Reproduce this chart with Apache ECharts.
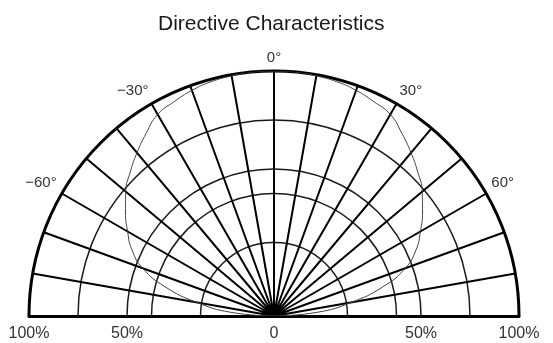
<!DOCTYPE html>
<html>
<head>
<meta charset="utf-8">
<script src="https://cdn.jsdelivr.net/npm/echarts@6/dist/echarts.min.js"></script>
<style>
  html,body{margin:0;padding:0;background:#fff;}
  #chart{width:553px;height:343px;}
</style>
</head>
<body>
<div id="chart"></div>
<script>
// angles of the curve (deg, one side), the other side is the mirror
var curveAngles = [0, 5, 10, 15, 20, 25, 30, 35, 40, 45, 50, 55, 60, 65, 70, 75, 80, 85, 90];
var curveValues = [1.0, 1.0, 0.995, 0.99, 0.98, 0.965, 0.95, 0.91, 0.87, 0.83, 0.79, 0.74, 0.69, 0.64, 0.57, 0.46, 0.32, 0.18, 0];

var angleLabels = [-60, -30, 0, 30, 60];       //角度标签
var ringValues = [0.3, 0.5, 0.6, 0.8];         //同心圆
var bottomTicks = [-1, -0.6, 0, 0.6, 1];
var bottomLabels = ['100%', '50%', '0', '50%', '100%'];

var curveData = [];
for (var i = curveAngles.length - 1; i > 0; i--) {
    curveData.push([curveValues[i], -curveAngles[i]]);
}
for (var j = 0; j < curveAngles.length; j++) {
    curveData.push([curveValues[j], curveAngles[j]]);
}

// radiusAxis splitLine colors, one per 0.1 tick
var ringColors = [];
for (var k = 0; k <= 10; k++) {
    var v = k / 10;
    var on = false;
    for (var m = 0; m < ringValues.length; m++) {
        if (Math.abs(ringValues[m] - v) < 1e-6) on = true;
    }
    ringColors.push(on ? '#1a1a1a' : 'rgba(0,0,0,0)');
}

var labelFont = "'Liberation Sans', Arial, sans-serif";

var myChart = echarts.init(document.getElementById('chart'));
var option = {
    backgroundColor: '#fff',
    animation: false,
    title: {
        text: 'Directive Characteristics',
        left: 153,
        top: 9,
        textStyle: {fontFamily: labelFont, fontSize: 21, fontWeight: 'normal', color: '#1a1a1a'}
    },
    polar: {
        center: [274, 316],
        radius: [0, 245]
    },
    angleAxis: {
        type: 'value',
        min: -90,
        max: 90,
        interval: 10,
        startAngle: 180,
        endAngle: 0,
        clockwise: true,
        axisLine: {show: true, lineStyle: {color: '#000', width: 3}},
        axisTick: {show: false},
        axisLabel: {
            margin: 6,
            fontFamily: labelFont,
            fontSize: 15,
            color: '#333',
            formatter: function (v) {
                if (angleLabels.indexOf(v) < 0) return '';
                return (v < 0 ? '\u2212' + (-v) : v) + '°';
            }
        },
        splitLine: {show: true, lineStyle: {color: '#000', width: 2}}
    },
    radiusAxis: {
        type: 'value',
        min: 0,
        max: 1,
        interval: 0.1,
        axisLine: {show: false},
        axisTick: {show: false},
        axisLabel: {show: false},
        splitLine: {show: true, lineStyle: {color: ringColors, width: 1.5}}
    },
    grid: {left: 29, right: 34, top: 60, bottom: 27},
    xAxis: {
        type: 'value',
        min: -1,
        max: 1,
        axisLine: {show: true, lineStyle: {color: '#000', width: 3}},
        axisTick: {show: false},
        splitLine: {show: false},
        axisLabel: {
            customValues: bottomTicks,
            margin: 10,
            fontFamily: labelFont,
            fontSize: 16,
            color: '#333',
            formatter: function (v) {
                for (var n = 0; n < bottomTicks.length; n++) {
                    if (Math.abs(bottomTicks[n] - v) < 1e-6) return bottomLabels[n];
                }
                return '';
            }
        }
    },
    yAxis: {type: 'value', show: false, min: 0, max: 1},
    series: [{
        type: 'line',
        coordinateSystem: 'polar',
        data: curveData,
        smooth: true,
        symbol: 'none',
        lineStyle: {color: '#444', width: 1}
    }]
};
myChart.setOption(option);
</script>
</body>
</html>
